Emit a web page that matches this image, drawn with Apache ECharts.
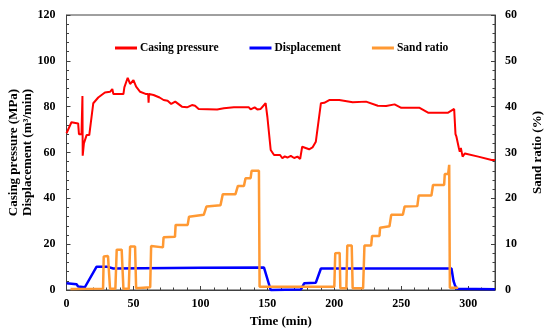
<!DOCTYPE html>
<html>
<head>
<meta charset="utf-8">
<script src="https://cdn.jsdelivr.net/npm/echarts@6/dist/echarts.min.js"></script>
<style>html,body{margin:0;padding:0;background:#fff}#c{width:550px;height:333px}</style>
</head>
<body>
<div id="c"></div>
<script>
// Casing pressure (MPa), left axis
var pressureT = [0, 3.7, 8.7, 9.3, 11.2, 11.9, 12.1, 13, 15, 17, 20, 23.7, 28.7, 32.5, 34.2, 35, 42.5, 43.2, 45.7, 47.5, 50, 52, 55, 59.5, 61, 61.3, 61.6, 65, 69.5, 72.5, 75.5, 78.2, 81.2, 86.2, 90, 93.7, 96, 98.7, 112.5, 117.5, 125, 136.2, 137.5, 140.5, 142.5, 145, 148.7, 150, 152.5, 155, 159.5, 161.2, 163, 165, 167.5, 170, 172.5, 174.5, 175.2, 176, 177, 181.2, 183.7, 186.2, 190, 192.5, 196.2, 203.7, 213.7, 223.7, 232.5, 238.7, 245, 250, 263.7, 270, 285, 289.5, 290.5, 291.2, 293, 293.7, 294.5, 295.8, 297.5, 307.5, 317.5, 320];
var pressureV = [68.4, 73.2, 72.7, 68, 68, 84.6, 58.6, 64, 67.6, 67.6, 81.5, 84, 86.2, 86.5, 87.7, 85.5, 85.5, 88.4, 92.6, 89.9, 91.6, 88.7, 86.5, 85.5, 85.5, 81.7, 85.5, 85.1, 84, 82.9, 82.6, 81.2, 82.2, 80, 79.7, 80.7, 80.4, 79, 78.8, 79.3, 79.7, 79.7, 78.8, 79.7, 78.8, 79, 81.5, 75.6, 61.1, 58.9, 58.9, 57.5, 58.3, 57.8, 58.5, 57.6, 58.2, 57.2, 57, 62.5, 62, 61.4, 62.2, 64.7, 81.5, 81.7, 82.9, 82.9, 81.9, 82.2, 80.4, 80.3, 81, 79.5, 79.5, 77.4, 77.4, 79, 68, 66.9, 62, 60.3, 62, 58.2, 59.6, 58.2, 56.7, 56.7];
// Displacement (m3/min), left axis
var dispT = [0, 7.5, 8.7, 13.7, 22.5, 30, 35, 100, 147.5, 148.7, 152.5, 175, 177.5, 186.2, 190, 287.5, 289, 290, 291.5, 320];
var dispV = [2.9, 2.5, 1.5, 1.2, 10.2, 10.2, 9.4, 9.7, 9.8, 9.4, 0, 0.2, 2.9, 3.2, 9.4, 9.4, 4, 2.2, 0.5, 0.3];
// Sand ratio (%), right axis
var sandT = [3, 27.3, 27.8, 31, 32.5, 36.5, 37.5, 41.2, 42.5, 46.5, 47.5, 51.2, 52, 62.5, 63.2, 72, 72.5, 81, 81.5, 90.5, 91.5, 102.5, 104.5, 115, 116.7, 126.2, 128, 132.5, 133.7, 137.5, 138.2, 143.7, 144.2, 200, 200.7, 204, 204.5, 209, 209.7, 213, 213.7, 221.5, 222.5, 227.5, 228.2, 233.7, 234.2, 241.2, 242.5, 251.2, 252.5, 262, 263, 272.5, 273.7, 282, 282.5, 285, 285.8, 286.3, 292.5];
var sandV = [0.2, 0.3, 7.3, 7.4, 0.3, 0.3, 8.8, 8.8, 0.3, 0.3, 9.5, 9.5, 0.4, 0.6, 9.6, 9.3, 11.5, 11.6, 14.2, 14.2, 16, 16.4, 18.2, 18.5, 20.9, 20.9, 22.7, 22.7, 24.4, 24.4, 26, 26, 0.7, 0.7, 8, 8.1, 0.4, 0.4, 9.7, 9.7, 0.4, 0.4, 9.7, 9.7, 11.8, 11.8, 13.6, 13.9, 16.4, 16.4, 18.2, 18.3, 20.6, 20.6, 22.9, 22.9, 25.3, 25.3, 27.3, 0.5, 0.5];

var xTicks = [0, 50, 100, 150, 200, 250, 300];
var leftTicks = [0, 20, 40, 60, 80, 100, 120];
var rightTicks = [0, 10, 20, 30, 40, 50, 60];

function zip(a, b) { return a.map(function (t, i) { return [t, b[i]]; }); }

var font = "'Liberation Serif', 'Times New Roman', serif";
var axisCol = '#404040';
var chart = echarts.init(document.getElementById('c'));
chart.setOption({
  animation: false,
  textStyle: { fontFamily: font },
  grid: { left: 66.5, right: 55, top: 15, bottom: 43, containLabel: false, outerBoundsMode: 'none',
    show: true, borderColor: axisCol, borderWidth: 1, backgroundColor: 'transparent' },
  legend: {
    data: ['Casing pressure', 'Displacement', 'Sand ratio'],
    left: 110, top: 37, icon: 'rect', itemWidth: 22, itemHeight: 3, itemGap: 31,
    textStyle: { fontFamily: font, fontWeight: 'bold', fontSize: 11.5, color: '#000', padding: [0, 0, 0, -2] }
  },
  xAxis: {
    type: 'value', min: 0, max: 320, interval: 50,
    name: 'Time (min)', nameLocation: 'middle', nameGap: 25,
    nameTextStyle: { fontFamily: font, fontWeight: 'bold', fontSize: 13, color: '#000' },
    axisLine: { show: true, lineStyle: { color: axisCol } },
    axisTick: { show: true, inside: true, length: 4, lineStyle: { color: axisCol } },
    minorTick: { show: true, splitNumber: 5, length: 2.5, lineStyle: { color: axisCol } },
    splitLine: { show: false },
    axisLabel: { fontFamily: font, fontWeight: 'bold', fontSize: 12, color: '#000', margin: 8, showMaxLabel: false,
      formatter: function (v) { return xTicks.indexOf(v) >= 0 ? String(v) : ''; } }
  },
  yAxis: [{
    type: 'value', min: 0, max: 120, interval: 20, position: 'left',
    name: 'Casing pressure (MPa)\nDisplacement (m³/min)', nameLocation: 'middle', nameGap: 32, nameRotate: 90,
    nameMoveOverlap: false,
    nameTextStyle: { fontFamily: font, fontWeight: 'bold', fontSize: 13, color: '#000', lineHeight: 14 },
    axisLine: { show: true, lineStyle: { color: axisCol } },
    axisTick: { show: true, inside: true, length: 4, lineStyle: { color: axisCol } },
    minorTick: { show: true, splitNumber: 5, length: 2.5, lineStyle: { color: axisCol } },
    splitLine: { show: false },
    axisLabel: { fontFamily: font, fontWeight: 'bold', fontSize: 12, color: '#000', margin: 11,
      formatter: function (v) { return leftTicks.indexOf(v) >= 0 ? String(v) : ''; } }
  }, {
    type: 'value', min: 0, max: 60, interval: 10, position: 'right',
    name: 'Sand ratio (%)', nameLocation: 'middle', nameGap: 36, nameRotate: 90,
    nameTextStyle: { fontFamily: font, fontWeight: 'bold', fontSize: 13, color: '#000' },
    axisLine: { show: true, lineStyle: { color: axisCol } },
    axisTick: { show: true, inside: true, length: 4, lineStyle: { color: axisCol } },
    minorTick: { show: true, splitNumber: 5, length: 2.5, lineStyle: { color: axisCol } },
    splitLine: { show: false },
    axisLabel: { fontFamily: font, fontWeight: 'bold', fontSize: 12, color: '#000', margin: 10,
      formatter: function (v) { return rightTicks.indexOf(v) >= 0 ? String(v) : ''; } }
  }],
  series: [{
    name: 'Displacement', type: 'line', yAxisIndex: 0, data: zip(dispT, dispV),
    symbol: 'none', clip: false, lineStyle: { color: '#0000ff', width: 2.5 }, itemStyle: { color: '#0000ff' }
  }, {
    name: 'Sand ratio', type: 'line', yAxisIndex: 1, data: zip(sandT, sandV),
    symbol: 'none', clip: false, lineStyle: { color: '#ff9933', width: 2.5 }, itemStyle: { color: '#ff9933' }
  }, {
    name: 'Casing pressure', type: 'line', yAxisIndex: 0, data: zip(pressureT, pressureV),
    symbol: 'none', clip: false, lineStyle: { color: '#ff0000', width: 2 }, itemStyle: { color: '#ff0000' }
  }]
});
</script>
</body>
</html>
